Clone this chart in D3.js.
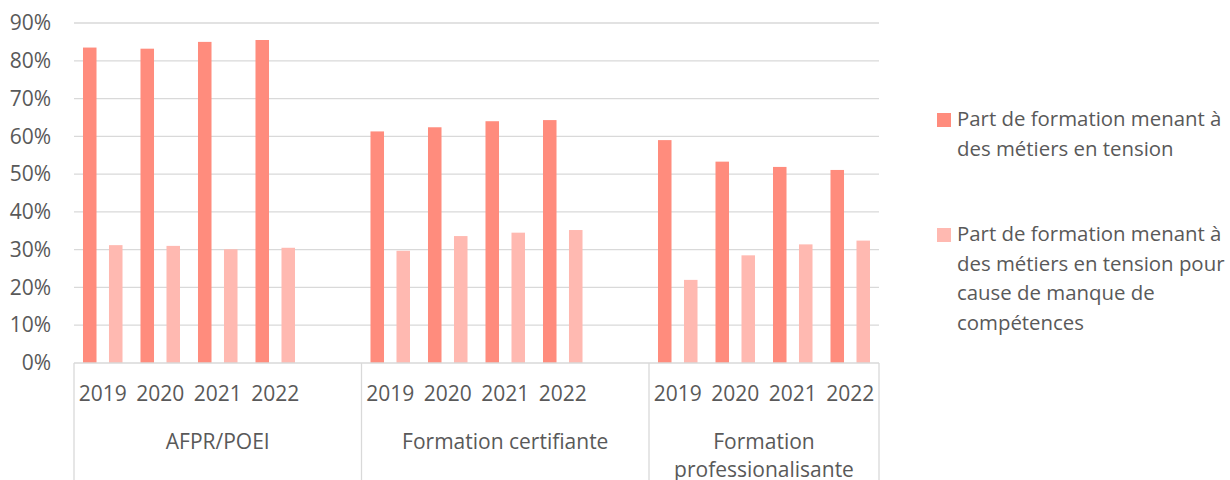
<!DOCTYPE html>
<html>
<head>
<meta charset="utf-8">
<script src="https://cdn.jsdelivr.net/npm/d3@7"></script>
<style>
  body { margin: 0; background: #fff; }
  text { font-family: 'Open Sans', sans-serif; fill: #595959; }
</style>
</head>
<body>
<script>
// données
var groups = ['AFPR/POEI', 'Formation certifiante', 'Formation professionalisante'];
var years = ['2019', '2020', '2021', '2022'];
var tension = [
  0.835, 0.832, 0.850, 0.855,
  0.613, 0.624, 0.640, 0.643,
  0.590, 0.533, 0.519, 0.511
];
var competences = [
  0.312, 0.310, 0.301, 0.305,
  0.297, 0.336, 0.345, 0.352,
  0.220, 0.285, 0.314, 0.324
];
var yTicks = [0, 0.1, 0.2, 0.3, 0.4, 0.5, 0.6, 0.7, 0.8, 0.9];
var seriesNames = [
  ['Part de formation menant à', 'des métiers en tension'],
  ['Part de formation menant à', 'des métiers en tension pour', 'cause de manque de', 'compétences']
];
var colors = ['#FF8C7D', '#FFB9B1'];

var width = 1230, height = 480;
var plotLeft = 74, plotRight = 879, plotTop = 23, plotBottom = 363;
var fontSize = '21px';

var svg = d3.select('body').append('svg')
  .attr('width', width)
  .attr('height', height);

// une case vide entre les groupes (comme dans le tableau Excel)
var slots = [];
groups.forEach(function(g, gi) {
  years.forEach(function(yr) { slots.push(g + '|' + yr); });
  if (gi < groups.length - 1) slots.push('vide' + gi);
});

var x0 = d3.scaleBand().domain(slots).range([plotLeft, plotRight]);
var x1 = d3.scaleBand().domain([0, 1]).range([0, x0.bandwidth()])
  .paddingInner(0.48).paddingOuter(0.346);
var y = d3.scaleLinear().domain([0, 0.9]).range([plotBottom, plotTop]);

// grille
svg.append('g')
  .selectAll('line')
  .data(yTicks.slice(1))
  .enter().append('line')
  .attr('x1', plotLeft).attr('x2', plotRight)
  .attr('y1', function(d) { return y(d); })
  .attr('y2', function(d) { return y(d); })
  .attr('stroke', '#D9D9D9')
  .attr('stroke-width', 1.3);

// axe Y
var yAxis = d3.axisLeft(y).tickValues(yTicks).tickFormat(d3.format('.0%')).tickSize(0).tickPadding(23);
svg.append('g')
  .attr('transform', 'translate(' + plotLeft + ',0)')
  .call(yAxis)
  .call(function(g) { g.select('.domain').remove(); })
  .selectAll('text')
  .style('font-size', fontSize)
  .style('font-family', "'Open Sans', sans-serif")
  .attr('fill', '#595959');

// barres
var rows = [];
groups.forEach(function(g, gi) {
  years.forEach(function(yr, yi) {
    var i = gi * years.length + yi;
    rows.push({ slot: g + '|' + yr, s: 0, v: tension[i] });
    rows.push({ slot: g + '|' + yr, s: 1, v: competences[i] });
  });
});

svg.append('g')
  .selectAll('rect')
  .data(rows)
  .enter().append('rect')
  .attr('x', function(d) { return x0(d.slot) + x1(d.s); })
  .attr('y', function(d) { return y(d.v); })
  .attr('width', x1.bandwidth())
  .attr('height', function(d) { return plotBottom - y(d.v); })
  .attr('fill', function(d) { return colors[d.s]; });

// axe X (deux niveaux)
var axisColor = '#D9D9D9';
svg.append('line')
  .attr('x1', plotLeft).attr('x2', plotRight)
  .attr('y1', plotBottom).attr('y2', plotBottom)
  .attr('stroke', axisColor).attr('stroke-width', 1.3);

var bounds = [plotLeft];
groups.forEach(function(g, gi) {
  var last = x0(g + '|' + years[years.length - 1]) + x0.bandwidth();
  if (gi < groups.length - 1) last += x0.bandwidth();
  bounds.push(last);
});

svg.append('g')
  .selectAll('line')
  .data(bounds)
  .enter().append('line')
  .attr('x1', function(d) { return d; }).attr('x2', function(d) { return d; })
  .attr('y1', plotBottom).attr('y2', height)
  .attr('stroke', axisColor).attr('stroke-width', 1.3);

svg.append('g')
  .selectAll('text')
  .data(slots.filter(function(s) { return s.indexOf('|') > 0; }))
  .enter().append('text')
  .attr('x', function(d) { return x0(d) + x0.bandwidth() / 2; })
  .attr('y', 401)
  .attr('text-anchor', 'middle')
  .style('font-size', fontSize)
  .text(function(d) { return d.split('|')[1]; });

var catLines = [['AFPR/POEI'], ['Formation certifiante'], ['Formation', 'professionalisante']];
catLines.forEach(function(lines, gi) {
  var cx = (bounds[gi] + bounds[gi + 1]) / 2;
  lines.forEach(function(t, li) {
    svg.append('text')
      .attr('x', cx)
      .attr('y', 449 + li * 28)
      .attr('text-anchor', 'middle')
      .style('font-size', fontSize)
      .text(t);
  });
});

// légende
var legendTop = [126, 241];
seriesNames.forEach(function(lines, si) {
  var g = svg.append('g');
  g.append('rect')
    .attr('x', 937).attr('y', legendTop[si] - 13)
    .attr('width', 14).attr('height', 14)
    .attr('fill', colors[si]);
  lines.forEach(function(t, li) {
    g.append('text')
      .attr('x', 957)
      .attr('y', legendTop[si] + li * 29.5)
      .style('font-size', '20.4px')
      .text(t);
  });
});
</script>
</body>
</html>
